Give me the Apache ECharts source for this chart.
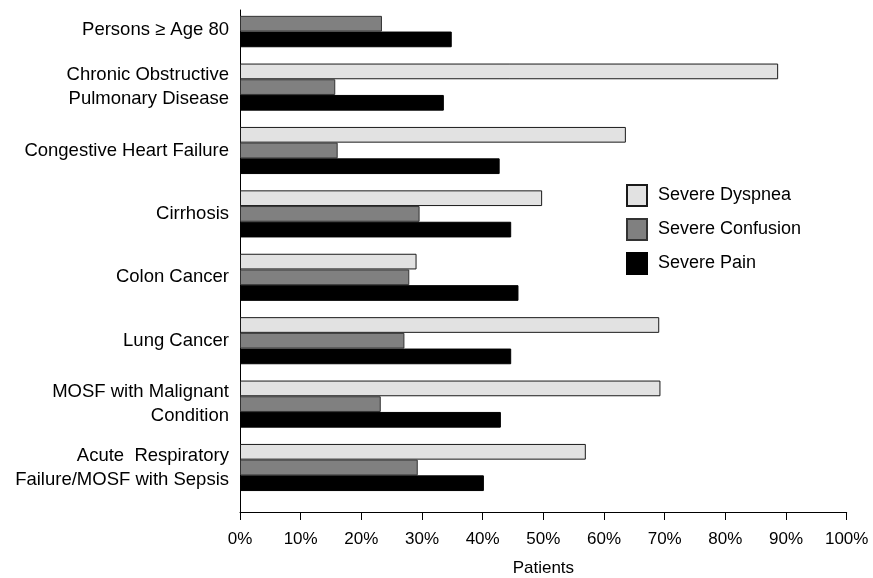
<!DOCTYPE html>
<html>
<head>
<meta charset="utf-8">
<script src="https://cdn.jsdelivr.net/npm/echarts@6/dist/echarts.min.js"></script>
<style>
html,body{margin:0;padding:0;background:#fff;}
#chart{width:873px;height:578px;}
</style>
</head>
<body>
<div id="chart"></div>
<script>
const categories = [
  'Persons \u2265 Age 80',
  'Chronic Obstructive\nPulmonary Disease',
  'Congestive Heart Failure',
  'Cirrhosis',
  'Colon Cancer',
  'Lung Cancer',
  'MOSF with Malignant\nCondition',
  'Acute  Respiratory\nFailure/MOSF with Sepsis'
];
const seriesNames = ['Severe Dyspnea', 'Severe Confusion', 'Severe Pain'];
const dyspnea = [null, 88.7, 63.6, 49.8, 29.1, 69.1, 69.3, 57.0];
const confusion = [23.4, 15.7, 16.1, 29.6, 27.9, 27.1, 23.2, 29.3];
const pain = [34.9, 33.6, 42.8, 44.7, 45.9, 44.7, 43.0, 40.2];
const xTicks = [0, 10, 20, 30, 40, 50, 60, 70, 80, 90, 100];

const FONT = "'Liberation Sans', Arial, Helvetica, sans-serif";
const chart = echarts.init(document.getElementById('chart'), null, {renderer: 'canvas'});

const barStyles = [
  {color: '#e2e2e2', borderColor: '#1a1a1a', borderWidth: 1},
  {color: '#808080', borderColor: '#333333', borderWidth: 1},
  {color: '#000000', borderColor: '#000000', borderWidth: 1}
];
const values = [dyspnea, confusion, pain];

chart.setOption({
  animation: false,
  backgroundColor: '#ffffff',
  textStyle: {fontFamily: FONT, color: '#000'},
  legend: {
    orient: 'vertical',
    left: 626,
    top: 184,
    padding: 0,
    itemWidth: 20,
    itemHeight: 21,
    itemGap: 11,
    icon: 'rect',
    data: seriesNames,
    textStyle: {fontFamily: FONT, fontSize: 18, color: '#000', padding: [0, 0, 0, 6]}
  },
  grid: [
    {left: 240, top: -8, width: 606.7, height: 507.2, containLabel: false, outerBoundsMode: 'none'},
    {left: 240, top: 10, width: 606.7, height: 502, containLabel: false, outerBoundsMode: 'none'}
  ],
  xAxis: [
    {gridIndex: 0, type: 'value', min: 0, max: 100, show: false},
    {
      gridIndex: 1, type: 'value', min: 0, max: 100, interval: 10,
      axisLine: {show: true, lineStyle: {color: '#000', width: 1}},
      axisTick: {show: true, length: 8, lineStyle: {color: '#000'}},
      splitLine: {show: false},
      axisLabel: {
        margin: 19, fontFamily: FONT, fontSize: 17, color: '#000',
        formatter: function (v) { return xTicks.indexOf(v) >= 0 ? v + '%' : ''; }
      },
      name: 'Patients',
      nameLocation: 'middle',
      nameGap: 48,
      nameTextStyle: {fontFamily: FONT, fontSize: 17, color: '#000'}
    }
  ],
  yAxis: [
    {
      gridIndex: 0, type: 'category', data: categories, inverse: true,
      axisLine: {show: false}, axisTick: {show: false},
      axisLabel: {
        margin: 11, fontFamily: FONT, fontSize: 18.5, color: '#000', lineHeight: 24, align: 'right',
        formatter: function (v, i) { return i === 0 ? '{a|' + v + '}' : v; },
        rich: {a: {fontFamily: FONT, fontSize: 18.5, color: '#000', lineHeight: 24, padding: [12, 0, 0, 0]}}
      }
    },
    {
      gridIndex: 1, type: 'value', min: 0, max: 1,
      axisLine: {show: true, lineStyle: {color: '#000', width: 1}},
      axisTick: {show: false}, axisLabel: {show: false}, splitLine: {show: false}
    }
  ],
  series: seriesNames.map(function (name, k) {
    return {
      name: name,
      type: 'bar',
      xAxisIndex: 0,
      yAxisIndex: 0,
      data: values[k],
      barWidth: 15.7,
      barGap: '0%',
      itemStyle: barStyles[k]
    };
  })
});
</script>
</body>
</html>
